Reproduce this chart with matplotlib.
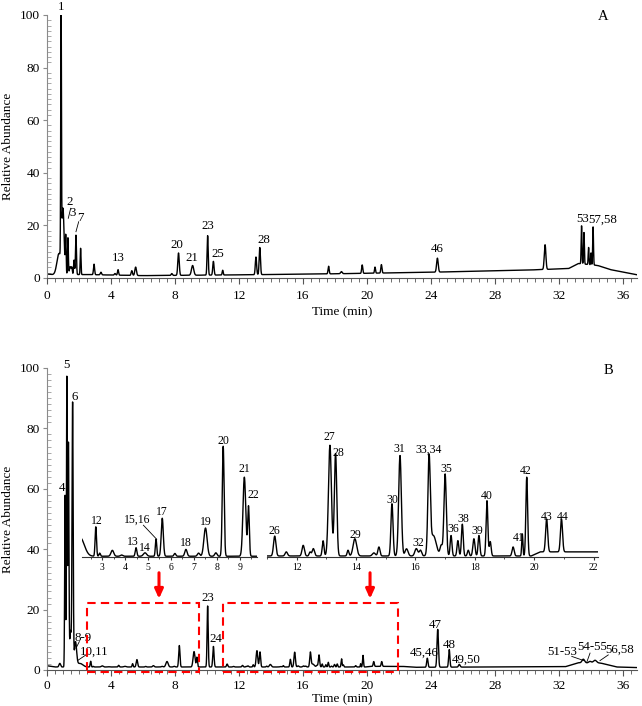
import numpy as np
import matplotlib
matplotlib.use("Agg")
import matplotlib.pyplot as plt
from matplotlib.ticker import MultipleLocator
from matplotlib.patches import Rectangle

plt.rcParams['font.family'] = ['Liberation Serif', 'DejaVu Serif']

# ---- panel A: peak table (time min, height above baseline %, sigma min)
a_time = [0.75, 0.88, 1.0, 1.17, 1.31, 1.45, 1.55, 1.69, 1.81, 2.1, 2.94, 3.37,
          4.25, 4.44, 5.3, 5.54, 7.8, 8.22, 9.1, 10.04, 10.4, 10.98, 13.06, 13.3,
          17.6, 18.4, 19.7, 20.5, 20.9, 24.4, 31.13, 33.41, 33.56, 33.85, 34.0, 34.13]
a_height = [8.0, 97, 24, 14, 14, 3, 2.5, 5.5, 15, 10, 4, 1.0,
            0.6, 2.1, 1.8, 3.2, 0.7, 8.5, 3.7, 15.0, 5.2, 1.8, 6.7, 10.3,
            2.9, 0.8, 3.2, 2.3, 3.2, 5.3, 9.4, 14.5, 12, 6.5, 4.5, 14.5]
a_width = [0.13, 0.022, 0.07, 0.025, 0.025, 0.05, 0.03, 0.03, 0.03, 0.025, 0.035, 0.04,
           0.04, 0.035, 0.04, 0.05, 0.04, 0.045, 0.07, 0.035, 0.04, 0.03, 0.04, 0.04,
           0.035, 0.05, 0.035, 0.03, 0.035, 0.05, 0.05, 0.025, 0.025, 0.025, 0.02, 0.025]
a_base_t = [0, 0.35, 2.5, 6, 12, 18, 24, 30, 32.6, 33.2, 34.4, 35.2, 36.9]
a_base_y = [1.5, 1.3, 1.3, 0.9, 1.2, 1.6, 2.2, 3.0, 3.6, 5.5, 4.8, 3.2, 1.2]

a_labels = ["1", "2", "3", "7", "13", "20", "21", "23", "25", "28", "46", "53", "57,58"]
a_lab_x = [0.875, 1.4, 1.58, 2.06, 4.46, 8.1, 9.08, 10.08, 10.67, 13.58, 24.4, 33.5, 34.75]
a_lab_y = [103, 29, 24.6, 22.7, 7.5, 12.5, 7.5, 19.8, 9.1, 14.4, 10.9, 22.4, 22]
a_leaders = [((1.33, 22.7), (1.48, 26.5)), ((1.81, 17.6), (1.98, 21.4))]

# ---- panel B: peak table
b_time = [0.8, 1.13, 1.24, 1.34, 1.47, 1.6, 1.78, 2.05,
          2.73, 2.9, 3.45, 3.85, 4.48, 4.87, 5.35, 5.62, 6.17, 6.65, 7.2, 7.5, 7.95,
          8.27, 9.19, 9.37, 10.04, 10.4,
          11.26, 11.65, 12.22, 12.45, 12.56, 12.89, 13.12, 13.31, 13.73, 13.96, 14.6,
          14.77, 15.21, 15.48, 15.7, 16.03, 16.17, 16.46, 16.6, 16.87, 17.0, 17.2,
          17.43, 17.58, 17.78, 17.97, 18.14, 18.41, 18.52, 19.29, 19.6, 19.75,
          20.42, 20.92, 23.77, 24.42, 25.14, 25.77, 33.52, 33.94, 34.25]
b_height = [1.2, 57, 96, 74, 12, 87, 8, 1.2,
            1.9, 0.2, 0.38, 0.08, 0.55, 0.22, 1.1, 2.45, 0.18, 0.44, 0.2, 1.82, 0.22,
            7.1, 5.1, 3.2, 20.2, 6.8,
            0.97, 0.2, 0.52, 0.19, 0.36, 0.74, 5.4, 5.0, 0.28, 0.84, 0.15,
            0.44, 2.55, 4.9, 0.35, 0.36, 0.28, 4.6, 1.0, 0.5, 4.0, 1.0,
            0.75, 1.55, 0.28, 0.84, 1.0, 2.7, 0.7, 0.44, 1.08, 3.85,
            1.6, 1.6, 3.0, 12.5, 5.8, 0.9, 1.2, 0.5, 0.9]
b_width = [0.05, 0.026, 0.026, 0.03, 0.05, 0.035, 0.07, 0.18,
           0.03, 0.03, 0.06, 0.05, 0.035, 0.07, 0.03, 0.045, 0.04, 0.05, 0.05, 0.07, 0.05,
           0.04, 0.06, 0.035, 0.035, 0.04,
           0.04, 0.04, 0.04, 0.03, 0.04, 0.03, 0.05, 0.04, 0.03, 0.06, 0.05,
           0.035, 0.035, 0.045, 0.05, 0.05, 0.04, 0.04, 0.1, 0.04, 0.04, 0.03,
           0.03, 0.03, 0.03, 0.035, 0.03, 0.03, 0.03, 0.035, 0.02, 0.03,
           0.035, 0.035, 0.04, 0.045, 0.04, 0.05, 0.08, 0.08, 0.1]
b_base_t = [0, 0.5, 19.9, 20.2, 22.2, 23, 32.4, 33.2, 34.6, 35.6, 36.9]
b_base_y = [1.4, 1.0, 1.0, 1.2, 1.2, 0.9, 1.1, 2.4, 2.3, 1.0, 0.8]

b_labels = ["4", "5", "6", "8-9", "10,11", "23", "24", "45,46", "47", "48", "49,50",
            "51-53", "54-55", "56,58"]
b_lab_x = [0.92, 1.23, 1.71, 2.23, 2.95, 10.04, 10.56, 23.56, 24.29, 25.14, 26.23,
           32.2, 34.1, 35.77]
b_lab_y = [60.3, 101, 90.5, 10.6, 5.9, 24, 10.2, 5.8, 14.9, 8.3, 3.4, 6, 7.7, 6.6]
b_leaders = [((1.81, 7.2), (2.02, 9.4)), ((1.9, 3.1), (2.55, 5.4)),
             ((32.8, 4.5), (33.56, 3.1)), ((33.94, 5.6), (33.73, 2.5)),
             ((35.08, 5.0), (34.56, 3.1))]

# inset labels (y in % units of panel B)
l_labels = ["12", "13", "14", "15,16", "17", "18", "19", "20", "21", "22"]
l_lab_x = [2.77, 4.36, 4.87, 4.54, 5.62, 6.65, 7.51, 8.3, 9.19, 9.58]
l_lab_y = [3.29, 1.90, 1.51, 3.34, 3.87, 1.83, 3.23, 8.43, 6.63, 4.95]
r_labels = ["26", "27", "28", "29", "30", "31", "32", "33,34", "35", "36", "38",
            "39", "40", "41", "42", "43", "44"]
r_lab_x = [11.26, 13.09, 13.39, 13.98, 15.21, 15.47, 16.09, 16.46, 17.04, 17.29,
           17.6, 18.08, 18.41, 19.49, 19.7, 20.42, 20.95]
r_lab_y = [2.22, 6.80, 6.01, 2.01, 3.75, 6.20, 1.62, 6.17, 5.26, 2.30, 2.79,
           2.22, 3.93, 1.89, 5.15, 2.90, 2.90]


def trace(t, times, heights, widths, base_t, base_y):
    y = np.interp(t, base_t, base_y)
    for c, h, w in zip(times, heights, widths):
        y = y + h * np.exp(-0.5 * ((t - c) / w) ** 2)
    return y


def style_main(ax, pad, labelpad):
    ax.spines['top'].set_visible(False)
    ax.spines['right'].set_visible(False)
    ax.spines['left'].set_color('#8a8a8a')
    ax.spines['bottom'].set_color('#555555')
    ax.set_xlim(0, 36.875)
    ax.set_ylim(0, 100)
    ax.xaxis.set_major_locator(MultipleLocator(4))
    ax.xaxis.set_minor_locator(MultipleLocator(0.5))
    ax.yaxis.set_major_locator(MultipleLocator(20))
    ax.yaxis.set_minor_locator(MultipleLocator(2))
    ax.tick_params(axis='x', which='major', direction='out', length=4, color='#555555',
                   labelsize=9.6, pad=pad)
    ax.tick_params(axis='x', which='minor', direction='out', length=3, color='#555555')
    ax.tick_params(axis='y', which='major', direction='out', length=3, color='#8a8a8a',
                   labelsize=9.6, pad=2)
    ax.tick_params(axis='y', which='minor', direction='in', length=3, color='#9a9a9a')
    ax.set_xlabel('Time (min)', fontsize=9.5, labelpad=labelpad)
    ax.set_ylabel('Relative Abundance', fontsize=9.5, labelpad=4)


def style_inset(ax, xmin, xmax, major, minor):
    ax.set_facecolor('none')
    for s in ['top', 'right', 'left']:
        ax.spines[s].set_visible(False)
    ax.spines['bottom'].set_color('#333333')
    ax.spines['bottom'].set_linewidth(0.8)
    ax.set_xlim(xmin, xmax)
    ax.set_yticks([])
    ax.xaxis.set_major_locator(MultipleLocator(major))
    ax.xaxis.set_minor_locator(MultipleLocator(minor))
    ax.tick_params(axis='x', which='major', direction='out', length=2.5, labelsize=7,
                   pad=1.5, color='#333333')
    ax.tick_params(axis='x', which='minor', direction='out', length=1.5, color='#333333')


t = np.arange(0, 36.9, 0.004)
ya = trace(t, a_time, a_height, a_width, a_base_t, a_base_y)
yb = trace(t, b_time, b_height, b_width, b_base_t, b_base_y)

W, H = 642, 706
fig = plt.figure(figsize=(W / 100, H / 100), dpi=100)

ax_a = fig.add_axes([47 / W, 1 - 278 / H, 590 / W, 263 / H])
ax_a.plot(t, ya, color='black', lw=1.0)
style_main(ax_a, 5, 3)
for s, x, y in zip(a_labels, a_lab_x, a_lab_y):
    ax_a.text(x, y, s, ha='center', va='center', fontsize=9.3)
for p0, p1 in a_leaders:
    ax_a.plot([p0[0], p1[0]], [p0[1], p1[1]], color='black', lw=0.6)
ax_a.text(34.75, 99.6, 'A', ha='center', va='center', fontsize=10.5)

ax_b = fig.add_axes([47 / W, 1 - 670 / H, 590 / W, 302 / H])
ax_b.plot(t, yb, color='black', lw=1.0)
style_main(ax_b, 3, 1)
for s, x, y in zip(b_labels, b_lab_x, b_lab_y):
    ax_b.text(x, y, s, ha='center', va='center', fontsize=9.3)
for p0, p1 in b_leaders:
    ax_b.plot([p0[0], p1[0]], [p0[1], p1[1]], color='black', lw=0.6)
ax_b.text(35.1, 99.3, 'B', ha='center', va='center', fontsize=10.5)

# zoom boxes and arrows
ax_b.add_patch(Rectangle((2.5, -0.6), 7.0, 22.8, fill=False, ec='red', lw=1.5,
                         ls=(0, (4, 2.5)), clip_on=False, zorder=3))
ax_b.add_patch(Rectangle((11.0, -0.6), 10.93, 22.8, fill=False, ec='red', lw=1.5,
                         ls=(0, (4, 2.5)), clip_on=False, zorder=3))
for xa in [7.0, 20.19]:
    ax_b.annotate('', xy=(xa, 23.6), xytext=(xa, 32.2),
                  arrowprops=dict(arrowstyle='-|>,head_width=0.25,head_length=0.55',
                                  color='red', lw=2.2, mutation_scale=10,
                                  shrinkA=0, shrinkB=0))

# insets
ax_l = fig.add_axes([82 / W, 1 - 557 / H, 175 / W, 120 / H])
ax_l.plot(t, yb, color='black', lw=1.0)
ax_l.set_ylim(0.95, 0.95 + 120 / 15.5)
style_inset(ax_l, 2.13, 9.74, 1, 0.5)
for s, x, y in zip(l_labels, l_lab_x, l_lab_y):
    ax_l.text(x, y, s, ha='center', va='center', fontsize=8.5)
ax_l.plot([4.8, 5.38], [3.0, 2.09], color='black', lw=0.6)

ax_r = fig.add_axes([267 / W, 1 - 557 / H, 331 / W, 120 / H])
ax_r.plot(t, yb, color='black', lw=1.0)
ax_r.set_ylim(0.95, 0.95 + 120 / 20.5)
style_inset(ax_r, 11.0, 22.15, 2, 1)
for s, x, y in zip(r_labels, r_lab_x, r_lab_y):
    ax_r.text(x, y, s, ha='center', va='center', fontsize=8.5)

fig.savefig('out.png', dpi=100)
